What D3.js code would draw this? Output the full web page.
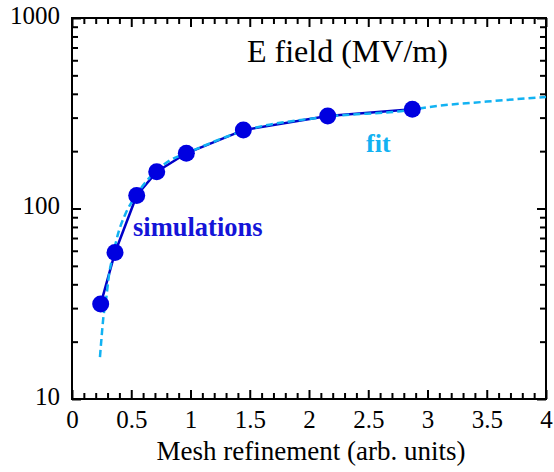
<!DOCTYPE html>
<meta charset="utf-8">
<head>
  <title>E field vs mesh refinement</title>
</head>

<style>
  body { margin: 0; background: #fff; }
</style>

<body>
  <svg width="554" height="472"></svg>

  <script src="https://cdnjs.cloudflare.com/ajax/libs/d3/7.8.5/d3.min.js"></script>

  <script>
  // simulation points (mesh refinement, E field in MV/m)
  var simX = [0.242, 0.363, 0.546, 0.715, 0.965, 1.446, 2.158, 2.872];
  var simE = [31.5, 58.8, 117, 156, 195, 258, 306, 332];

  // fit curve
  var fitX = [0.236, 0.251, 0.264, 0.287, 0.312, 0.346, 0.388, 0.447, 0.532, 0.658, 0.827, 0.962, 1.443, 2.152, 2.87, 3.0, 3.5, 4.0];
  var fitE = [16.6, 21.6, 26.6, 33.1, 44.7, 56.9, 73.4, 92.5, 115, 146, 179, 194.5, 255, 303, 330, 340, 364, 385];

  var xMajor = [0, 0.5, 1, 1.5, 2, 2.5, 3, 3.5, 4];
  var yMajor = [10, 100, 1000];
  var yMinor = [20, 30, 40, 50, 60, 70, 80, 90, 200, 300, 400, 500, 600, 700, 800, 900];

  var serif = '"Liberation Serif", "Times New Roman", "DejaVu Serif", serif';

  var margin = {top: 18, right: 8, bottom: 73, left: 72};
  var width = 554 - margin.left - margin.right,
      height = 472 - margin.top - margin.bottom;

  var svg = d3.select('svg');
  var g = svg.append('g')
    .attr('transform', 'translate(' + margin.left + ',' + margin.top + ')');

  var x = d3.scaleLinear().domain([0, 4]).range([0, width]);
  var y = d3.scaleLog().domain([10, 1000]).range([height, 0]);

  var xMinor = d3.range(0, 41).map(function(i) { return i / 10; })
    .filter(function(v) { return Math.round(v * 10) % 5 != 0; });

  function styleAxis(sel) {
    sel.attr('font-family', null).attr('font-size', null);
    sel.select('.domain').remove();
    sel.selectAll('line').attr('stroke', '#000').attr('stroke-width', 2);
    sel.selectAll('text')
      .style('font-family', serif)
      .style('font-size', '25px')
      .attr('fill', '#000');
  }

  // bottom
  g.append('g').attr('transform', 'translate(0,' + height + ')')
    .call(d3.axisBottom(x).tickValues(xMajor).tickSize(-9).tickPadding(11).tickFormat(d3.format('')))
    .call(styleAxis);
  g.append('g').attr('transform', 'translate(0,' + height + ')')
    .call(d3.axisBottom(x).tickValues(xMinor).tickSize(-6).tickFormat(''))
    .call(styleAxis);
  // top
  g.append('g')
    .call(d3.axisTop(x).tickValues(xMajor).tickSize(-9).tickFormat(''))
    .call(styleAxis);
  g.append('g')
    .call(d3.axisTop(x).tickValues(xMinor).tickSize(-6).tickFormat(''))
    .call(styleAxis);
  // left
  var yl = g.append('g')
    .call(d3.axisLeft(y).tickValues(yMajor).tickSize(-9).tickPadding(12).tickFormat(d3.format('d')))
    .call(styleAxis);
  yl.selectAll('text').attr('dy', '0.2em');
  g.append('g')
    .call(d3.axisLeft(y).tickValues(yMinor).tickSize(-6).tickFormat(''))
    .call(styleAxis);
  // right
  g.append('g').attr('transform', 'translate(' + width + ',0)')
    .call(d3.axisRight(y).tickValues(yMajor).tickSize(-9).tickFormat(''))
    .call(styleAxis);
  g.append('g').attr('transform', 'translate(' + width + ',0)')
    .call(d3.axisRight(y).tickValues(yMinor).tickSize(-6).tickFormat(''))
    .call(styleAxis);

  g.append('rect')
    .attr('width', width).attr('height', height)
    .attr('fill', 'none').attr('stroke', '#000').attr('stroke-width', 2);

  var sim = simX.map(function(d, i) { return [d, simE[i]]; });
  var fit = fitX.map(function(d, i) { return [d, fitE[i]]; });

  // simulations line
  g.append('path')
    .datum(sim)
    .attr('fill', 'none')
    .attr('stroke', '#0000c8')
    .attr('stroke-width', 2.5)
    .attr('d', d3.line().x(function(d) { return x(d[0]); }).y(function(d) { return y(d[1]); }));

  // fit
  g.append('path')
    .datum(fit)
    .attr('fill', 'none')
    .attr('stroke', '#12b2f2')
    .attr('stroke-width', 2.5)
    .attr('stroke-dasharray', '7,4')
    .attr('d', d3.line().curve(d3.curveMonotoneX)
      .x(function(d) { return x(d[0]); }).y(function(d) { return y(d[1]); }));

  g.selectAll('circle')
    .data(sim)
    .enter()
    .append('circle')
    .attr('cx', function(d) { return x(d[0]); })
    .attr('cy', function(d) { return y(d[1]); })
    .attr('r', 8.5)
    .attr('fill', '#0000e0');

  // labels
  svg.append('text')
    .attr('x', 247).attr('y', 62)
    .style('font-family', serif)
    .style('font-size', '32px')
    .text('E field (MV/m)');

  svg.append('text')
    .attr('x', 133).attr('y', 236)
    .style('font-family', serif)
    .style('font-size', '26.5px').style('font-weight', 'bold')
    .attr('fill', '#1414d8')
    .text('simulations');

  svg.append('text')
    .attr('x', 366).attr('y', 152)
    .style('font-family', serif)
    .style('font-size', '26px').style('font-weight', 'bold')
    .attr('fill', '#12b2f2')
    .text('fit');

  svg.append('text')
    .attr('x', margin.left + width / 2 + 2).attr('y', 460)
    .attr('text-anchor', 'middle')
    .style('font-family', serif)
    .style('font-size', '27px')
    .text('Mesh refinement (arb. units)');
  </script>
</body>
</html>
